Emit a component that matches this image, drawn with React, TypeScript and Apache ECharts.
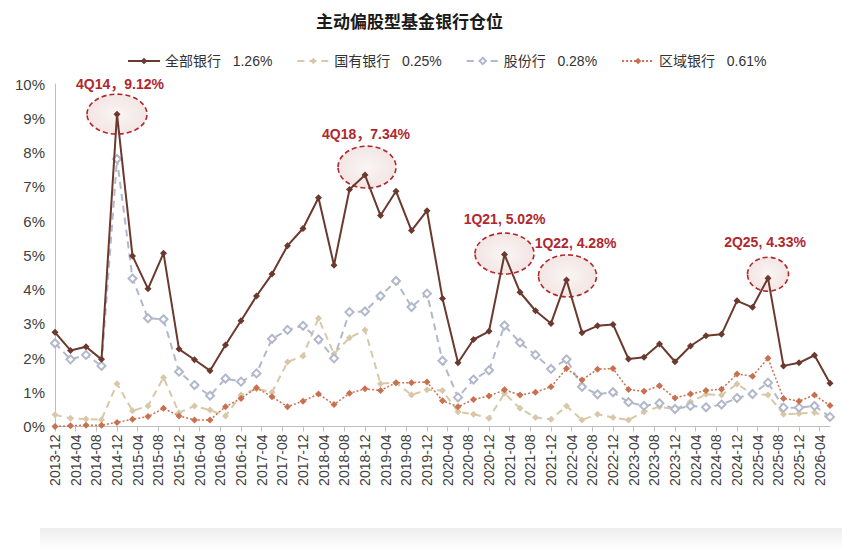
import React, { useEffect, useRef } from "react";
import * as echarts from "echarts";

const TITLE = "主动偏股型基金银行仓位";
const SERIES_NAMES = ["全部银行", "国有银行", "股份行", "区域银行"];

// monthly axis: 2013-12 ... (quarterly data sit on every third month)
const START_YEAR = 2013;
const START_MONTH = 12;
const MONTH_COUNT = 151;

// quarterly positions (%), 4Q13 onwards
const ALL_BANKS = [
  2.75, 2.22, 2.33, 1.96, 9.12, 4.98, 4.02, 5.06, 2.26, 1.95,
  1.63, 2.38, 3.09, 3.81, 4.45, 5.28, 5.78, 6.68, 4.71, 6.92,
  7.34, 6.16, 6.87, 5.72, 6.30, 3.74, 1.86, 2.54, 2.78, 5.02,
  3.92, 3.38, 3.01, 4.28, 2.74, 2.94, 2.98, 1.97, 2.02, 2.41,
  1.89, 2.35, 2.65, 2.69, 3.67, 3.48, 4.33, 1.77, 1.86, 2.08,
  1.26,
];
const STATE_BANKS = [
  0.34, 0.24, 0.22, 0.20, 1.25, 0.46, 0.60, 1.43, 0.40, 0.60,
  0.48, 0.31, 0.92, 1.10, 1.00, 1.88, 2.06, 3.16, 2.12, 2.59,
  2.82, 1.25, 1.28, 0.92, 1.07, 1.05, 0.43, 0.36, 0.24, 0.97,
  0.53, 0.26, 0.21, 0.60, 0.19, 0.36, 0.26, 0.19, 0.43, 0.58,
  0.50, 0.72, 0.94, 0.92, 1.24, 0.95, 0.92, 0.36, 0.38, 0.41,
  0.25,
];
const JOINT_STOCK_BANKS = [
  2.43, 1.96, 2.09, 1.77, 7.81, 4.32, 3.16, 3.13, 1.60, 1.21,
  0.90, 1.40, 1.31, 1.55, 2.56, 2.82, 2.94, 2.54, 1.99, 3.34,
  3.36, 3.81, 4.25, 3.49, 3.88, 1.92, 0.85, 1.37, 1.64, 2.95,
  2.45, 2.09, 1.68, 1.96, 1.16, 0.94, 1.00, 0.71, 0.60, 0.68,
  0.51, 0.60, 0.56, 0.64, 0.83, 0.95, 1.28, 0.55, 0.55, 0.60,
  0.28,
];
const REGIONAL_BANKS = [
  0.00, 0.02, 0.04, 0.04, 0.12, 0.21, 0.29, 0.53, 0.31, 0.19,
  0.19, 0.58, 0.82, 1.13, 0.87, 0.58, 0.74, 0.95, 0.64, 0.97,
  1.10, 1.05, 1.28, 1.28, 1.30, 0.75, 0.58, 0.79, 0.89, 1.07,
  0.92, 1.00, 1.16, 1.69, 1.36, 1.67, 1.69, 1.08, 1.03, 1.19,
  0.83, 0.95, 1.05, 1.09, 1.53, 1.47, 1.99, 0.82, 0.74, 0.92,
  0.61,
];

const Y_MIN = 0;
const Y_MAX = 10;
const Y_STEP = 1;

const ANNOTATION_INDEX = [4, 20, 29, 33, 46];
const ANNOTATION_TEXT = ["4Q14，9.12%", "4Q18，7.34%", "1Q21, 5.02%", "1Q22, 4.28%", "2Q25, 4.33%"];

// layout of the callouts relative to their point (px)
const ANNOTATION_LAYOUT = [
  { ex: 0, ey: 0, rx: 30, ry: 20, tx: 3, ty: -30 },
  { ex: 2, ey: -8, rx: 29, ry: 21, tx: 1, ty: -41 },
  { ex: 0, ey: -1, rx: 29.5, ry: 20.5, tx: 0, ty: -36 },
  { ex: 1, ey: -4, rx: 29, ry: 21, tx: 9, ty: -37 },
  { ex: 0, ey: -4, rx: 20.5, ry: 17, tx: -3, ty: -36 },
];

const MONTHS: string[] = [];
for (let i = 0; i < MONTH_COUNT; i++) {
  const total = START_YEAR * 12 + (START_MONTH - 1) + i;
  const y = Math.floor(total / 12);
  const m = (total % 12) + 1;
  MONTHS.push(`${y}-${String(m).padStart(2, "0")}`);
}

const LATIN = '"Liberation Sans", Arial, "Noto Sans CJK SC", sans-serif';
const CJK = '"Noto Sans CJK SC", "Liberation Sans", sans-serif';

const COLORS = ["#6B392E", "#D9C8A8", "#B2B8CB", "#C9714F"];

function toSeriesData(values: number[]) {
  return values.map((v, i) => [i * 3, v]);
}

export default function App() {
  const ref = useRef<HTMLDivElement>(null);

  useEffect(() => {
    document.body.style.margin = "0";
    if (!ref.current) return;
    const chart = echarts.init(ref.current, undefined, { renderer: "svg" });

    const allValues: Record<string, number[]> = {
      [SERIES_NAMES[0]]: ALL_BANKS,
      [SERIES_NAMES[1]]: STATE_BANKS,
      [SERIES_NAMES[2]]: JOINT_STOCK_BANKS,
      [SERIES_NAMES[3]]: REGIONAL_BANKS,
    };

    const common = { type: "line", showSymbol: true, showAllSymbol: true };

    const option: any = {
      animation: false,
      backgroundColor: "#ffffff",
      title: {
        text: TITLE,
        left: 311,
        top: 7,
        textStyle: { fontSize: 17, fontWeight: "bold", color: "#1a1a1a", fontFamily: CJK },
      },
      legend: {
        top: 49,
        left: 122,
        itemWidth: 32,
        itemHeight: 8,
        itemGap: 24,
        data: SERIES_NAMES,
        formatter: (name: string) => {
          const arr = allValues[name];
          return `${name}   ${arr[arr.length - 1].toFixed(2)}%`;
        },
        textStyle: { fontSize: 14, color: "#333333", fontFamily: LATIN },
      },
      grid: { left: 55, right: 12, top: 84, bottom: 123.5, outerBoundsMode: "none" },
      xAxis: {
        type: "category",
        data: MONTHS,
        boundaryGap: false,
        axisLine: { lineStyle: { color: "#BFBFBF", width: 1 } },
        axisTick: { interval: 3, length: 5, lineStyle: { color: "#BFBFBF" } },
        axisLabel: { interval: 3, rotate: 90, fontSize: 14, color: "#404040", margin: 8, fontFamily: LATIN },
        splitLine: { show: false },
      },
      yAxis: {
        type: "value",
        min: Y_MIN,
        max: Y_MAX,
        interval: Y_STEP,
        axisLine: { show: true, lineStyle: { color: "#BFBFBF", width: 1 } },
        axisTick: { show: false },
        splitLine: { show: false },
        axisLabel: { formatter: "{value}%", fontSize: 15, color: "#404040", margin: 10, fontFamily: LATIN },
      },
      series: [
        {
          ...common,
          name: SERIES_NAMES[0],
          data: toSeriesData(ALL_BANKS),
          symbol: "diamond",
          symbolSize: 7,
          z: 5,
          itemStyle: { color: COLORS[0] },
          lineStyle: { color: COLORS[0], width: 2 },
        },
        {
          ...common,
          name: SERIES_NAMES[1],
          data: toSeriesData(STATE_BANKS),
          symbol: "diamond",
          symbolSize: 7,
          z: 3,
          itemStyle: { color: COLORS[1] },
          lineStyle: { color: COLORS[1], width: 2, type: [7, 5] },
        },
        {
          ...common,
          name: SERIES_NAMES[2],
          data: toSeriesData(JOINT_STOCK_BANKS),
          symbol: "emptyDiamond",
          symbolSize: 8,
          z: 3,
          itemStyle: { color: COLORS[2], borderWidth: 1.3 },
          lineStyle: { color: COLORS[2], width: 2, type: [7, 5] },
        },
        {
          ...common,
          name: SERIES_NAMES[3],
          data: toSeriesData(REGIONAL_BANKS),
          symbol: "diamond",
          symbolSize: 7,
          z: 4,
          itemStyle: { color: COLORS[3] },
          lineStyle: { color: COLORS[3], width: 1.5, type: [2, 2] },
        },
      ],
    };

    chart.setOption(option);

    const graphics: any[] = [
      {
        type: "rect",
        silent: true,
        z: -1,
        shape: { x: 40, y: 528, width: 802, height: 22 },
        style: {
          fill: new echarts.graphic.LinearGradient(0, 0, 0, 1, [
            { offset: 0, color: "rgba(0,0,0,0.07)" },
            { offset: 1, color: "rgba(0,0,0,0)" },
          ]),
        },
      },
    ];
    ANNOTATION_INDEX.forEach((idx, k) => {
      const p = chart.convertToPixel({ gridIndex: 0 }, [idx * 3, ALL_BANKS[idx]]) as number[];
      const L = ANNOTATION_LAYOUT[k];
      graphics.push({
        type: "ellipse",
        silent: true,
        z: 1,
        shape: { cx: p[0] + L.ex, cy: p[1] + L.ey, rx: L.rx, ry: L.ry },
        style: {
          fill: new echarts.graphic.RadialGradient(0.5, 0.5, 0.5, [
            { offset: 0, color: "#FAF5F4" },
            { offset: 1, color: "#F2E6E4" },
          ]),
          stroke: "#B3262C",
          lineWidth: 1.6,
          lineDash: [5, 3],
        },
      });
      graphics.push({
        type: "text",
        silent: true,
        z: 10,
        x: p[0] + L.tx,
        y: p[1] + L.ty,
        style: {
          text: ANNOTATION_TEXT[k],
          fill: "#B0272D",
          font: `bold 14px ${LATIN}`,
          align: "center",
          verticalAlign: "middle",
        },
      });
    });
    chart.setOption({ graphic: graphics });

    return () => chart.dispose();
  }, []);

  return <div ref={ref} style={{ width: 842, height: 550 }} />;
}
